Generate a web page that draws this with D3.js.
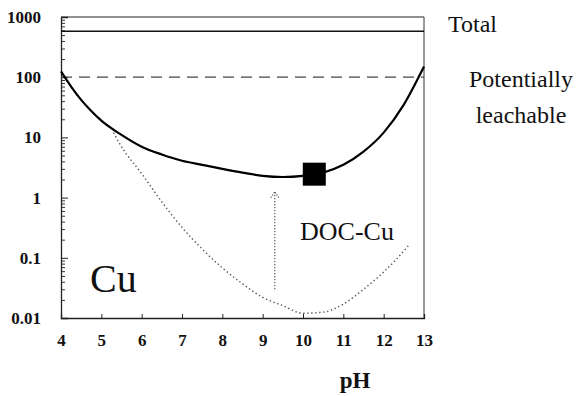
<!DOCTYPE html>
<html>
<head>
<meta charset="utf-8">
<script src="https://cdn.jsdelivr.net/npm/d3@7"></script>
<style>
  html, body { margin: 0; padding: 0; background: #fff; }
  svg { display: block; }
</style>
</head>
<body>
<svg id="chart" width="576" height="396"></svg>
<script>
// pH axis
const xTicks = [4, 5, 6, 7, 8, 9, 10, 11, 12, 13];
// concentration axis (log)
const yTicks = [1000, 100, 10, 1, 0.1, 0.01];
const yTickLabels = ["1000", "100", "10", "1", "0.1", "0.01"];

// reference levels
const totalLevel = 580;
const leachableLevel = 100;

// dissolved Cu vs pH (solid curve)
const dissolvedPH = [4.0, 4.25, 4.5, 4.75, 5.0, 5.5, 6.0, 6.5, 7.0, 7.5, 8.0, 8.5, 9.0, 9.5, 10.0, 10.5, 11.0, 11.5, 12.0, 12.5, 13.0];
const dissolvedCu = [125, 70, 42, 27.5, 19, 11, 7.0, 5.2, 4.1, 3.5, 3.0, 2.6, 2.3, 2.2, 2.3, 2.6, 3.5, 5.8, 12, 35, 150];

// DOC-bound Cu vs pH (dotted curve)
const docPH = [5.3, 5.5, 6.0, 6.5, 7.0, 7.5, 8.0, 8.5, 9.0, 9.5, 10.0, 10.5, 11.0, 11.5, 12.0, 12.5, 12.65];
const docCu = [12, 7.0, 2.5, 0.85, 0.32, 0.14, 0.068, 0.037, 0.022, 0.016, 0.012, 0.0125, 0.017, 0.030, 0.058, 0.13, 0.17];

// measured point
const measuredPH = [10.28];
const measuredCu = [2.45];

// DOC effect arrow
const arrowPH = 9.3;
const arrowFrom = 0.03;
const arrowTo = 1.25;

const serif = '"Liberation Serif", "Times New Roman", Times, serif';

const svg = d3.select("#chart");
const x = d3.scaleLinear().domain([4, 13]).range([61, 424]);
const y = d3.scaleLog().domain([0.01, 1000]).range([318, 17]);

// frame (top and right)
svg.append("line").attr("x1", x(4)).attr("x2", x(13)).attr("y1", y(1000)).attr("y2", y(1000))
  .attr("stroke", "#222").attr("stroke-width", 1.2);
svg.append("line").attr("x1", x(13)).attr("x2", x(13)).attr("y1", y(1000)).attr("y2", y(0.01))
  .attr("stroke", "#555").attr("stroke-width", 1.2);

// left axis: minor ticks
const minor = [];
for (let e = -2; e < 3; e++) for (let m = 2; m <= 9; m++) minor.push(m * Math.pow(10, e));
svg.append("g").attr("transform", `translate(${x(4)},0)`)
  .call(d3.axisLeft(y).tickValues(minor).tickSize(-4).tickFormat(""))
  .call(g => g.select(".domain").remove())
  .selectAll("line").attr("stroke", "#333");

// left axis: major ticks and labels
const yAxis = svg.append("g").attr("transform", `translate(${x(4)},0)`)
  .call(d3.axisLeft(y).tickValues(yTicks).tickSize(-7).tickPadding(20)
    .tickFormat((d, i) => yTickLabels[i]));
yAxis.attr("font-family", serif).attr("font-size", 17).attr("font-weight", "bold");
yAxis.select(".domain").attr("stroke", "#222").attr("stroke-width", 1.3);
yAxis.selectAll("line").attr("stroke", "#222");
yAxis.selectAll("text").attr("fill", "#111");

// bottom axis
const xAxis = svg.append("g").attr("transform", `translate(0,${y(0.01)})`)
  .call(d3.axisBottom(x).tickValues(xTicks).tickSize(-4).tickPadding(16).tickFormat(d3.format("d")));
xAxis.attr("font-family", serif).attr("font-size", 17).attr("font-weight", "bold");
xAxis.select(".domain").attr("stroke", "#222").attr("stroke-width", 1.3);
xAxis.selectAll("line").attr("stroke", "#222");
xAxis.selectAll("text").attr("fill", "#111");

// reference lines
svg.append("line").attr("x1", x(4)).attr("x2", x(13)).attr("y1", y(totalLevel)).attr("y2", y(totalLevel))
  .attr("stroke", "#111").attr("stroke-width", 1.6);
svg.append("line").attr("x1", x(4)).attr("x2", x(13)).attr("y1", y(leachableLevel)).attr("y2", y(leachableLevel))
  .attr("stroke", "#444").attr("stroke-width", 1.3).attr("stroke-dasharray", "11,7");

// curves
const line = d3.line().x(d => x(d[0])).y(d => y(d[1])).curve(d3.curveMonotoneX);
svg.append("path").datum(d3.zip(docPH, docCu)).attr("d", line)
  .attr("fill", "none").attr("stroke", "#555").attr("stroke-width", 1.4)
  .attr("stroke-dasharray", "1.4,2.6");
svg.append("path").datum(d3.zip(dissolvedPH, dissolvedCu)).attr("d", line)
  .attr("fill", "none").attr("stroke", "#000").attr("stroke-width", 2.2);

// measured point
const sq = 23;
svg.selectAll("rect.pt").data(d3.zip(measuredPH, measuredCu)).enter().append("rect")
  .attr("x", d => x(d[0]) - sq / 2).attr("y", d => y(d[1]) - sq / 2)
  .attr("width", sq).attr("height", sq).attr("fill", "#000");

// arrow
svg.append("line").attr("x1", x(arrowPH)).attr("x2", x(arrowPH))
  .attr("y1", y(arrowFrom)).attr("y2", y(arrowTo))
  .attr("stroke", "#666").attr("stroke-width", 1.3).attr("stroke-dasharray", "1.3,1.7");
svg.append("path")
  .attr("d", `M${x(arrowPH) - 4},${y(arrowTo) + 6}L${x(arrowPH)},${y(arrowTo)}L${x(arrowPH) + 4},${y(arrowTo) + 6}`)
  .attr("fill", "none").attr("stroke", "#666").attr("stroke-width", 1.2).attr("stroke-dasharray", "1.3,1.3");

// labels
const label = (tx, ty, txt, size, anchor, weight) =>
  svg.append("text").attr("x", tx).attr("y", ty).attr("text-anchor", anchor || "start")
    .attr("font-family", serif).attr("font-size", size).attr("font-weight", weight || "normal")
    .attr("fill", "#111").text(txt);
label(448, 32, "Total", 24);
label(521, 87, "Potentially", 24, "middle");
label(521, 123, "leachable", 24, "middle");
label(300, 240, "DOC-Cu", 26);
label(90, 292, "Cu", 40);
label(355, 388, "pH", 23, "middle", "bold");
</script>
</body>
</html>
